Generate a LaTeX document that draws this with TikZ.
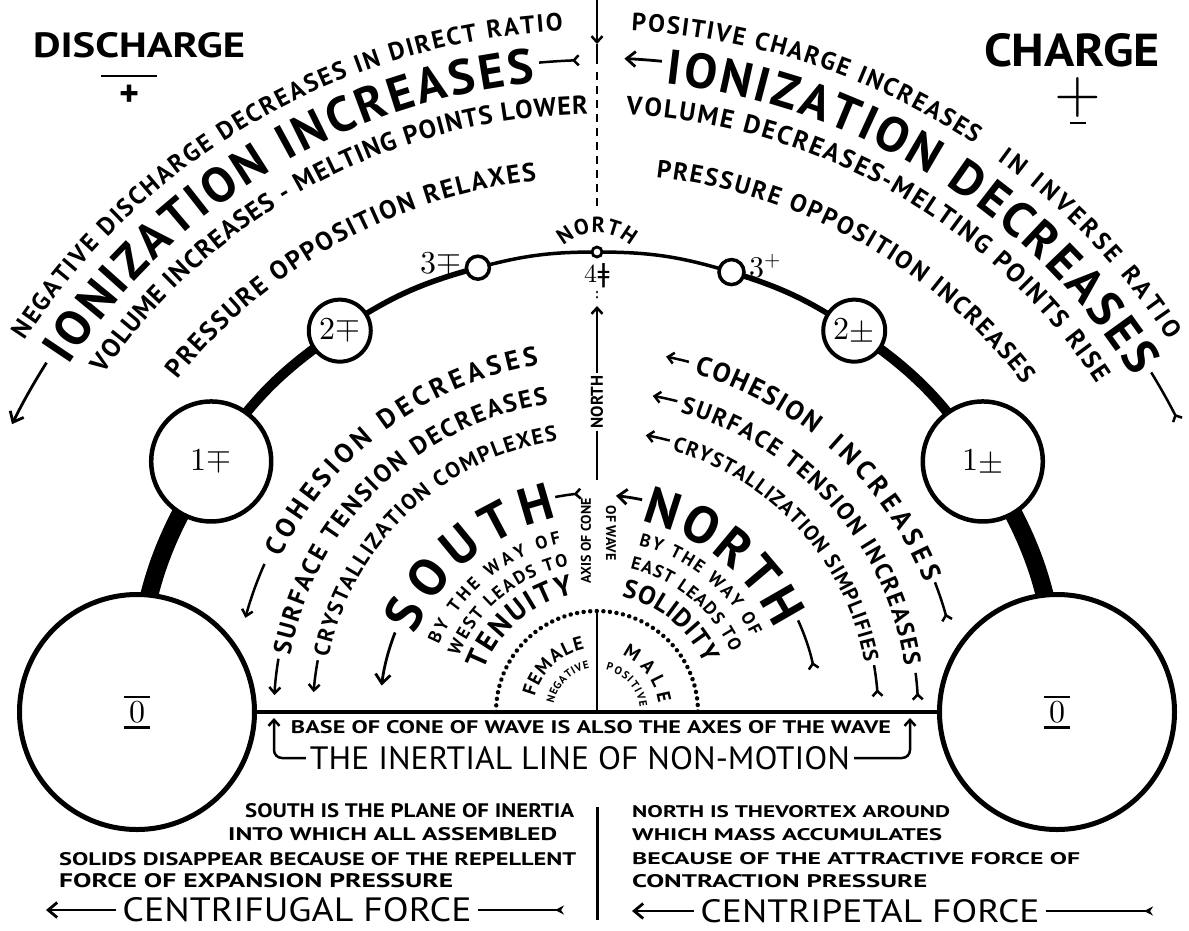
\documentclass[tikz,border=0pt]{standalone}
\usepackage{fontspec}
\usepackage{unicode-math}
\usepackage{graphicx}
\setsansfont{PT Sans}
\newfontfamily\dejavu{DejaVu Sans}
\usetikzlibrary{positioning,arrows.meta,calc,backgrounds,decorations.text}

\newcommand\fs[1]{\fontsize{#1}{#1}\selectfont}
\newcommand\fitbox[3]{\resizebox{#1pt}{#2pt}{#3}}
% text on an arc: [centre]{radius}{from}{to}{font}{text}
\newcommand\arctxt[6][O]{%
  \path[decorate,decoration={text along path,text align=fit to path,text={|#5|#6}}]
    ($(#1)+(#3:#2)$) arc[start angle=#3,end angle=#4,radius=#2];}
\newcommand\arcarr[4]{%
  \draw[#4] ($(O)+(#2:#1)$) arc[start angle=#2,end angle=#3,radius=#1];}

\tikzset{
  ball/.style={circle, draw, fill=white, inner sep=0pt},
  hd/.style={line width=2.5pt, -{Straight Barb[length=6pt,width=11pt]}},
  hdbig/.style={line width=2.8pt, -{Straight Barb[length=9pt,width=15pt]}},
  tl/.style={line width=2.5pt, -{Straight Barb[reversed,length=5pt,width=10pt]}},
  tlbig/.style={line width=2.8pt, -{Stealth[reversed,length=9pt,width=9pt]}},
  lab/.style={font=\sffamily\bfseries\fs{18}, inner sep=0pt},
  axtxt/.style={font=\sffamily\bfseries\fs{15}, inner sep=2pt},
  dashax/.style={line width=2.8pt, dash pattern=on 8pt off 6pt},
  dotarc/.style={line width=4.4pt, dash pattern=on 0.1pt off 6.5pt, line cap=round},
}

\begin{document}
\begin{tikzpicture}[x=1pt,y=1pt]
  \useasboundingbox (0,0) rectangle (1189,-930);
  \coordinate (O) at (597,-712);
  \def\R{460}
  % balls along the wave
  \node[ball, line width=5pt, minimum size=235pt] (lo) at ($(O)+(180:\R)$) {};
  \node[ball, line width=4.5pt, minimum size=120pt, font=\fs{32}] (n1l) at ($(O)+(147:\R)$) {$1\mp$};
  \node[ball, line width=4pt, minimum size=62pt, font=\fs{32}] (n2l) at ($(O)+(124:\R)$) {$2\mp$};
  \node[ball, line width=3.5pt, minimum size=23pt] (n3l) at ($(O)+(105:\R)$) {};
  \node[ball, line width=2.8pt, minimum size=10pt] (nN) at ($(O)+(90:\R)$) {};
  \node[ball, line width=3.5pt, minimum size=25pt] (n3r) at ($(O)+(73:\R)$) {};
  \node[ball, line width=4pt, minimum size=62pt, font=\fs{32}] (n2r) at ($(O)+(56:\R)$) {$2\pm$};
  \node[ball, line width=4.5pt, minimum size=120pt, font=\fs{32}] (n1r) at ($(O)+(33:\R)$) {$1\pm$};
  \node[ball, line width=5pt, minimum size=235pt] (ro) at ($(O)+(0:\R)$) {};
  % connectors, thinner towards north
  \begin{scope}[on background layer]
    \foreach \a/\b/\w/\bd in {lo/n1l/18/16.5, n1l/n2l/10/11.5, n2l/n3l/5.5/9.5, n3l/nN/3.5/7.5,
                              nN/n3r/3.5/8.5, n3r/n2r/5.5/8.5, n2r/n1r/10/11.5, n1r/ro/18/16.5}
      \draw[line width=\w pt] (\a.center) to[bend left=\bd] (\b.center);
  \end{scope}
  \node[font=\fs{32}, left=0pt of n3l, yshift=4pt] (l3l) {$3\mp$};
  \node[font=\fs{30}, right=0pt of n3r, yshift=6pt] (l3r) {$3^{+}$};
  \node[font=\fs{26}, below=5pt of nN, inner sep=0pt] (l4) {$4$\dejavu ǂ};
  \node[font=\fs{32}, inner sep=4pt, minimum width=26pt] (zl) at (lo) {$0$};
  \node[font=\fs{32}, inner sep=4pt, minimum width=26pt] (zr) at (ro) {$0$};
  \draw[line width=2.6pt] (zl.north west) -- (zl.north east) (zl.south west) -- (zl.south east);
  \draw[line width=2.6pt] (zr.north west) -- (zr.north east) (zr.south west) -- (zr.south east);

  % base and axis
  \draw[line width=3.5pt] (lo) -- (ro);
  \coordinate (axT) at (597,0);
  \coordinate (axM) at (597,-44);
  \coordinate (axB) at (597,-64);
  \coordinate (axD) at (597,-72);
  \coordinate (axE) at (597,-210);
  \draw[hd] (axT) -- (axM);
  \draw[line width=2.5pt] (axM) -- (axB);
  \draw[dashax] (axD) -- (axE);
  \draw[line width=2.8pt, dash pattern=on 0.1pt off 5pt, line cap=round] (597,-292) -- (597,-302);
  \node[axtxt, rotate=90, font=\sffamily\bfseries\fs{17}] (vN) at (597,-402) {NORTH};
  \coordinate (aN) at (597,-306);
  \coordinate (axC) at (597,-480);
  \coordinate (dT) at (597,-611);
  \draw[hd] (vN.east) -- (aN);
  \draw[line width=2.5pt] (vN.west) -- (axC);
  \draw[line width=2.5pt] (dT) -- (O);
  \node[axtxt, rotate=90, font=\sffamily\bfseries\fs{14}] (ax1) at (586,-541) {AXIS OF CONE};
  \node[axtxt, rotate=-90, font=\sffamily\bfseries\fs{14}] (ax2) at (611,-533) {OF WAVE};
  \draw[dotarc] ($(O)+(180:101)$) arc[start angle=180,end angle=0,radius=101];

  % titles
  \node[font=\sffamily\bfseries\fs{36}, inner sep=0pt] (dis) at (139,-45) {\fitbox{212}{25}{DISCHARGE}};
  \draw[line width=2.6pt] (101,-76) -- (157,-76);
  \node[font=\sffamily\bfseries\fs{38}, inner sep=0pt] (disp) at (130,-96) {+};
  \node[font=\sffamily\bfseries\fs{46}, inner sep=0pt] (chg) at (1072,-50) {\fitbox{176}{33}{CHARGE}};
  \node[font=\fs{60}, inner sep=0pt] (chgp) at (1078,-97) {$+$};
  \draw[line width=2.6pt] (1070,-123) -- (1086,-123);

  % outer band, west
  \arctxt{682}{147}{92.9}{\sffamily\bfseries\fs{25}}{NEGATIVE DISCHARGE DECREASES IN DIRECT RATIO}
  \arctxt{632}{146.8}{95.6}{\sffamily\bfseries\fs{49}}{IONIZATION INCREASES}
  \arctxt{598}{145.6}{90.9}{\sffamily\bfseries\fs{26}}{VOLUME INCREASES - MELTING POINTS LOWER}
  \arctxt{535}{141.6}{96.5}{\sffamily\bfseries\fs{26}}{PRESSURE OPPOSITION RELAXES}
  \arcarr{652}{95.1}{91.5}{tl}
  \arcarr{652}{147.6}{153.8}{hdbig}
  % outer band, east
  \arctxt{682}{87.1}{56.4}{\sffamily\bfseries\fs{25}}{POSITIVE CHARGE INCREASES}
  \arctxt{682}{54}{33}{\sffamily\bfseries\fs{25}}{IN INVERSE RATIO}
  \arctxt{632}{83.8}{32}{\sffamily\bfseries\fs{49}}{IONIZATION DECREASES}
  \arctxt{598}{87.2}{33.3}{\sffamily\bfseries\fs{26}}{VOLUME DECREASES-MELTING POINTS RISE}
  \arctxt{538}{83.7}{37.5}{\sffamily\bfseries\fs{25}}{PRESSURE OPPOSITION INCREASES}
  \arcarr{654}{84.3}{87.6}{hdbig}
  \arcarr{650}{31.5}{26.6}{tl}
  \coordinate (cN) at (597,-283);
  \arctxt[cN]{50}{132}{48}{\sffamily\bfseries\fs{22}}{NORTH}

  % inner band, west
  \arctxt{352}{154}{99.5}{\sffamily\bfseries\fs{27}}{COHESION DECREASES}
  \arctxt{312}{169.5}{99}{\sffamily\bfseries\fs{25}}{SURFACE TENSION DECREASES}
  \arctxt{274}{168.5}{98.3}{\sffamily\bfseries\fs{22}}{CRYSTALLIZATION COMPLEXES}
  \arcarr{364}{156}{165}{hd}
  \arcarr{323}{170.5}{177}{hd}
  \arcarr{284}{169.5}{176}{hd}
  \arctxt{198}{157}{101.5}{\sffamily\bfseries\fs{52}}{SOUTH}
  \arcarr{219}{101}{94}{tl}
  \arcarr{217}{158.5}{173}{hdbig}
  \arctxt{172}{157}{102}{\sffamily\bfseries\fs{18}}{BY THE WAY OF}
  \arctxt{149}{158}{101}{\sffamily\bfseries\fs{18}}{WEST LEADS TO}
  \arctxt{120}{160}{101}{\sffamily\bfseries\fs{29}}{TENUITY}
  \arctxt{64}{166}{101}{\sffamily\bfseries\fs{19}}{FEMALE}
  \arctxt{44}{169}{100}{\sffamily\bfseries\fs{11}}{NEGATIVE}
  % inner band, east
  \arctxt{352}{74}{52}{\sffamily\bfseries\fs{27}}{COHESION}
  \arctxt{352}{49}{21.5}{\sffamily\bfseries\fs{27}}{INCREASES}
  \arctxt{311}{74.5}{8.5}{\sffamily\bfseries\fs{24}}{SURFACE TENSION INCREASES}
  \arctxt{272}{74}{10.5}{\sffamily\bfseries\fs{21}}{CRYSTALLIZATION SIMPLIFIES}
  \arcarr{362}{75.3}{79}{hd}
  \arcarr{362}{21}{14.5}{tl}
  \arcarr{321}{75.5}{80}{hd}
  \arcarr{321}{7}{2}{tl}
  \arcarr{281}{75}{80}{hd}
  \arcarr{281}{9.6}{3}{tl}
  \arctxt{196}{77}{25}{\sffamily\bfseries\fs{52}}{NORTH}
  \arcarr{217}{78}{85}{hdbig}
  \arcarr{221}{24.5}{11}{tl}
  \arctxt{172}{76}{26}{\sffamily\bfseries\fs{18}}{BY THE WAY OF}
  \arctxt{147}{77}{24}{\sffamily\bfseries\fs{18}}{EAST LEADS TO}
  \arctxt{118}{78}{24}{\sffamily\bfseries\fs{26}}{SOLIDITY}
  \arctxt{62}{66}{8}{\sffamily\bfseries\fs{19}}{MALE}
  \arctxt{43}{78}{6}{\sffamily\bfseries\fs{11}}{POSITIVE}

  % inertial line
  \node[lab] (bc) at (591,-727) {\fitbox{600}{13}{BASE OF CONE OF WAVE IS ALSO THE AXES OF THE WAVE}};
  \node[font=\sffamily\fs{33}, inner sep=0pt] (il) at (580,-758) {\fitbox{540}{23}{THE INERTIAL LINE OF NON-MOTION}};
  \coordinate (inA) at (274,-718);
  \coordinate (inB) at (910,-718);
  \draw[hd, rounded corners=8pt] ([xshift=-4pt]il.west) -| (inA);
  \draw[hd, rounded corners=8pt] ([xshift=4pt]il.east) -| (inB);

  % notes at the bottom
  \node[lab, anchor=base west] (s1) at (245,-817) {\fitbox{329}{14}{SOUTH IS THE PLANE OF INERTIA}};
  \node[lab, anchor=base west] (s2) at (228,-840) {\fitbox{329}{13}{INTO WHICH ALL ASSEMBLED}};
  \node[lab, anchor=base west] (s3) at (59,-865) {\fitbox{517}{13}{SOLIDS DISAPPEAR BECAUSE OF THE REPELLENT}};
  \node[lab, anchor=base west] (s4) at (59,-887) {\fitbox{394}{14}{FORCE OF EXPANSION PRESSURE}};
  \node[lab, anchor=base west] (r1) at (632,-817) {\fitbox{318}{12}{NORTH IS THEVORTEX AROUND}};
  \node[lab, anchor=base west] (r2) at (632,-840) {\fitbox{310}{12}{WHICH MASS ACCUMULATES}};
  \node[lab, anchor=base west] (r3) at (632,-864) {\fitbox{448}{12}{BECAUSE OF THE ATTRACTIVE FORCE OF}};
  \node[lab, anchor=base west] (r4) at (632,-887) {\fitbox{295}{13}{CONTRACTION PRESSURE}};
  \draw[line width=3pt] (597,-807) -- (597,-920);
  \node[font=\sffamily\fs{34}, inner sep=0pt] (cf) at (297,-910) {\fitbox{349}{24}{CENTRIFUGAL FORCE}};
  \node[font=\sffamily\fs{34}, inner sep=0pt] (cp) at (870,-911) {\fitbox{339}{23}{CENTRIPETAL FORCE}};
  \coordinate (cfL) at (46,-910);
  \coordinate (cfR) at (564,-910);
  \coordinate (cpL) at (632,-911);
  \coordinate (cpR) at (1153,-911);
  \draw[hdbig] ([xshift=-6pt]cf.west) -- (cfL);
  \draw[tlbig] ([xshift=6pt]cf.east) -- (cfR);
  \draw[hdbig] ([xshift=-6pt]cp.west) -- (cpL);
  \draw[tlbig] ([xshift=6pt]cp.east) -- (cpR);
\end{tikzpicture}
\end{document}
